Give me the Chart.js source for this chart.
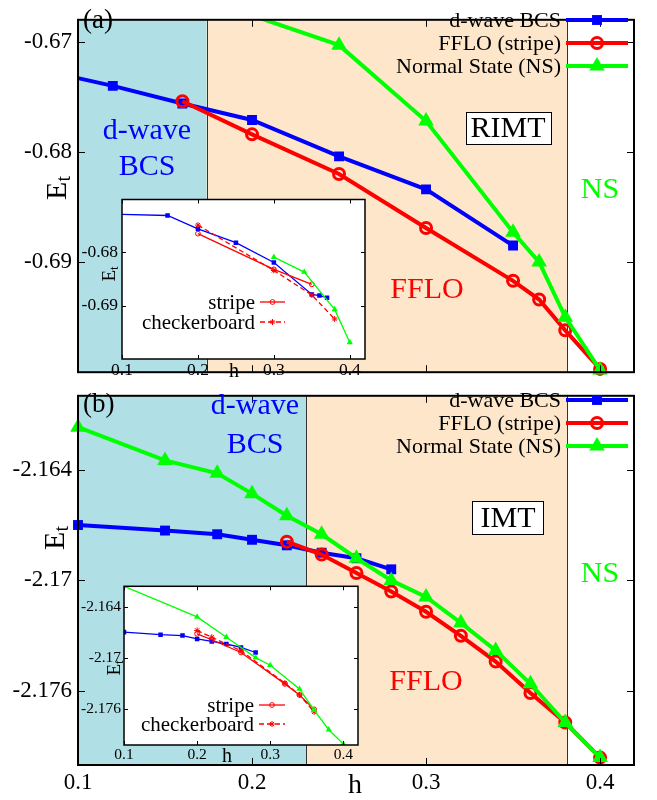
<!DOCTYPE html>
<html>
<head>
<meta charset="utf-8">
<script src="https://cdn.jsdelivr.net/npm/chart.js@4.4.0/dist/chart.umd.min.js"></script>
<style>
  body { margin: 0; background: #fff; }
  #wrap { position: relative; width: 657px; height: 800px; }
  #wrap canvas { position: absolute; }
</style>
</head>
<body>
<div id="wrap">
  <canvas id="mainB"></canvas>
  <canvas id="mainA"></canvas>
  <canvas id="insetA"></canvas>
  <canvas id="insetB"></canvas>
</div>
<script>
// field h ticks shared by all four frames
const hTicks = [0.1, 0.2, 0.3, 0.4]

// (a) RIMT
const aBcsH = [0.10, 0.12, 0.16, 0.20, 0.25, 0.30, 0.35]
const aBcsE = [-0.6733, -0.6740, -0.6756, -0.6771, -0.6804, -0.6834, -0.6885]
const aFfloH = [0.16, 0.20, 0.25, 0.30, 0.35, 0.365, 0.38, 0.40]
const aFfloE = [-0.6754, -0.6784, -0.6820, -0.6869, -0.6917, -0.6934, -0.6962, -0.6997]
const aNsH = [0.20, 0.25, 0.30, 0.35, 0.365, 0.38, 0.40]
const aNsE = [-0.6676, -0.6703, -0.6772, -0.6873, -0.6900, -0.6950, -0.6998]
const aTicks = [-0.67, -0.68, -0.69]
const aPhaseEdges = [0.174, 0.381]

// (a) inset: stripe vs checkerboard
const aiBcsH = [0.10, 0.16, 0.20, 0.25, 0.30, 0.35, 0.36, 0.37]
const aiBcsE = [-0.6729, -0.6731, -0.6756, -0.6782, -0.6819, -0.6879, -0.6881, -0.6885]
const aiStripeH = [0.20, 0.30, 0.35]
const aiStripeE = [-0.6765, -0.6832, -0.6860]
const aiCheckH = [0.20, 0.30, 0.35, 0.38]
const aiCheckE = [-0.6749, -0.6834, -0.6880, -0.6925]
const aiNsH = [0.30, 0.34, 0.38, 0.40]
const aiNsE = [-0.6809, -0.6837, -0.6907, -0.6969]
const aiTicks = [-0.68, -0.69]

// (b) IMT
const bBcsH = [0.10, 0.15, 0.18, 0.20, 0.22, 0.24, 0.26, 0.28]
const bBcsE = [-2.1670, -2.1673, -2.1675, -2.1678, -2.1681, -2.1685, -2.1688, -2.1694]
const bFfloH = [0.22, 0.24, 0.26, 0.28, 0.30, 0.32, 0.34, 0.36, 0.38, 0.40]
const bFfloE = [-2.1679, -2.1686, -2.1696, -2.1706, -2.1717, -2.1730, -2.1744, -2.1761, -2.1777, -2.1796]
const bNsH = [0.10, 0.15, 0.18, 0.20, 0.22, 0.24, 0.26, 0.28, 0.30, 0.32, 0.34, 0.36, 0.38, 0.40]
const bNsE = [-2.1617, -2.1635, -2.1642, -2.1653, -2.1665, -2.1675, -2.1688, -2.1700, -2.1709, -2.1723, -2.1738, -2.1756, -2.1777, -2.1796]
const bTicks = [-2.164, -2.17, -2.176]
const bPhaseEdges = [0.231, 0.381]

// (b) inset
const biBcsH = [0.10, 0.15, 0.18, 0.20, 0.22, 0.24, 0.26, 0.28]
const biBcsE = [-2.1670, -2.1673, -2.1674, -2.1678, -2.1681, -2.1684, -2.1688, -2.1694]
const biStripeH = [0.20, 0.22, 0.26, 0.32, 0.34, 0.36]
const biStripeE = [-2.1672, -2.1679, -2.1694, -2.1731, -2.1744, -2.1761]
const biCheckH = [0.20, 0.22, 0.26, 0.32, 0.34, 0.36]
const biCheckE = [-2.1668, -2.1676, -2.1692, -2.1730, -2.1744, -2.1764]
const biNsH = [0.10, 0.20, 0.24, 0.28, 0.30, 0.34, 0.36, 0.38, 0.40]
const biNsE = [-2.1616, -2.1652, -2.1676, -2.1700, -2.1709, -2.1737, -2.1762, -2.1785, -2.1802]
const biTicks = [-2.164, -2.17, -2.176]

const serif = "'Liberation Serif', 'Times New Roman', serif"
const BLUE = '#0000ff', RED = '#ff0000', GREEN = '#00ff00'
const CYAN_BAND = '#b0dfe5', ORANGE_BAND = '#fde6ca'

const pts = (hs, es) => hs.map((h, i) => ({ x: h, y: es[i] }))

// series styles, thick for main frames and thin for insets
function bcs(data, thin, hideFirst) {
  const r = thin ? 3.2 : 7
  return {
    label: 'd-wave BCS', data, order: 3,
    borderColor: BLUE, borderWidth: thin ? 1.3 : 4,
    pointStyle: 'rect', pointRadius: hideFirst ? (c => c.dataIndex === 0 ? 0 : r) : r,
    legendRadius: r, pointBackgroundColor: BLUE, pointBorderColor: BLUE, pointBorderWidth: 0
  }
}
function fflo(label, data, thin) {
  return {
    label, data, order: 2,
    borderColor: RED, borderWidth: thin ? 1.3 : 4,
    pointStyle: 'circle', pointRadius: thin ? 2.4 : 5.5, legendRadius: thin ? 2.4 : 5.5,
    pointBackgroundColor: 'rgba(0,0,0,0)', pointBorderColor: RED, pointBorderWidth: thin ? 1 : 3
  }
}
function checker(data) {
  return {
    label: 'checkerboard', data, order: 2,
    borderColor: RED, borderWidth: 1.3, borderDash: [5, 3],
    pointStyle: 'star', pointRadius: 3, legendRadius: 3,
    pointBackgroundColor: RED, pointBorderColor: RED, pointBorderWidth: 1
  }
}
function ns(data, thin) {
  return {
    label: 'Normal State (NS)', data, order: 1,
    borderColor: GREEN, borderWidth: thin ? 1.3 : 4,
    pointStyle: 'triangle', pointRadius: thin ? 3.6 : 9, legendRadius: thin ? 3.6 : 9,
    pointBackgroundColor: GREEN, pointBorderColor: GREEN, pointBorderWidth: 0
  }
}

function drawSample(ctx, ds, x1, x2, y) {
  ctx.save()
  ctx.strokeStyle = ds.borderColor
  ctx.lineWidth = ds.borderWidth
  ctx.setLineDash(ds.borderDash || [])
  ctx.beginPath()
  ctx.moveTo(x1, y)
  ctx.lineTo(x2, y)
  ctx.stroke()
  ctx.setLineDash([])
  ctx.fillStyle = ds.pointBackgroundColor
  ctx.strokeStyle = ds.pointBorderColor
  ctx.lineWidth = ds.pointBorderWidth
  Chart.helpers.drawPoint(ctx, {
    pointStyle: ds.pointStyle, radius: ds.legendRadius, rotation: 0, borderWidth: ds.pointBorderWidth
  }, (x1 + x2) / 2, y)
  ctx.restore()
}

function drawEt(ctx, x, y, size) {
  const sub = Math.round(size * 0.68)
  ctx.save()
  ctx.translate(x, y)
  ctx.rotate(-Math.PI / 2)
  ctx.fillStyle = '#000'
  ctx.textAlign = 'left'
  ctx.font = `${size}px ${serif}`
  const wE = ctx.measureText('E').width
  ctx.font = `${sub}px ${serif}`
  const wt = ctx.measureText('t').width
  const x0 = -(wE + wt) / 2
  ctx.font = `${size}px ${serif}`
  ctx.fillText('E', x0, 0)
  ctx.font = `${sub}px ${serif}`
  ctx.fillText('t', x0 + wE, size * 0.22)
  ctx.restore()
}

// phase bands, frame, mirrored ticks, labels and legend
const decorPlugin = {
  id: 'decor',
  beforeDatasetsDraw(chart, args, o) {
    const { ctx, chartArea: a, scales: { x } } = chart
    ctx.save()
    if (o.edges) {
      const e0 = x.getPixelForValue(o.edges[0])
      const e1 = x.getPixelForValue(o.edges[1])
      ctx.fillStyle = CYAN_BAND
      ctx.fillRect(a.left, a.top, e0 - a.left, a.bottom - a.top)
      ctx.fillStyle = ORANGE_BAND
      ctx.fillRect(e0, a.top, e1 - e0, a.bottom - a.top)
      ctx.strokeStyle = '#333'
      ctx.lineWidth = 1
      ctx.beginPath()
      ;[e0, e1].forEach(px => {
        ctx.moveTo(Math.round(px) + 0.5, a.top)
        ctx.lineTo(Math.round(px) + 0.5, a.bottom)
      })
      ctx.stroke()
    } else {
      ctx.fillStyle = '#fff'
      ctx.fillRect(a.left, a.top, a.right - a.left, a.bottom - a.top)
    }
    ctx.restore()
  },
  afterDatasetsDraw(chart, args, o) {
    const { ctx, chartArea: a, scales: { x, y } } = chart
    const [ox, oy] = o.offset
    const tl = o.tickLen
    ctx.save()
    ctx.strokeStyle = '#000'
    ctx.lineWidth = 1
    ctx.beginPath()
    x.ticks.forEach(t => {
      const px = Math.round(x.getPixelForValue(t.value)) + 0.5
      ctx.moveTo(px, a.bottom); ctx.lineTo(px, a.bottom - tl)
      ctx.moveTo(px, a.top); ctx.lineTo(px, a.top + tl)
    })
    y.ticks.forEach(t => {
      const py = Math.round(y.getPixelForValue(t.value)) + 0.5
      ctx.moveTo(a.left, py); ctx.lineTo(a.left + tl, py)
      ctx.moveTo(a.right, py); ctx.lineTo(a.right - tl, py)
    })
    ctx.stroke()
    ctx.lineWidth = o.frameWidth
    ctx.strokeRect(a.left, a.top, a.right - a.left, a.bottom - a.top)

    ;(o.texts || []).forEach(t => {
      if (t.box) {
        ctx.fillStyle = '#fff'
        ctx.fillRect(t.box[0] - ox, t.box[1] - oy, t.box[2], t.box[3])
        ctx.lineWidth = 1
        ctx.strokeStyle = '#000'
        ctx.strokeRect(t.box[0] - ox + 0.5, t.box[1] - oy + 0.5, t.box[2], t.box[3])
      }
      ctx.font = t.font
      ctx.fillStyle = t.color || '#000'
      ctx.textAlign = t.align || 'center'
      ctx.textBaseline = 'alphabetic'
      ctx.fillText(t.text, t.x - ox, t.y - oy)
    })

    if (o.legend) {
      const L = o.legend
      ctx.font = L.font
      ctx.textAlign = 'right'
      ctx.textBaseline = 'middle'
      L.items.forEach((di, i) => {
        const ds = chart.data.datasets[di]
        const ry = L.rows[i] - oy
        ctx.fillStyle = '#000'
        ctx.fillText(ds.label, L.right - ox, ry + 1)
        drawSample(ctx, ds, L.x1 - ox, L.x2 - ox, ry)
      })
    }
    if (o.et) drawEt(ctx, o.et.x - ox, o.et.y - oy, o.et.size)
    ctx.restore()
  }
}

function buildChart(id, place, area, conf) {
  const canvas = document.getElementById(id)
  canvas.width = place.w
  canvas.height = place.h
  canvas.style.left = place.x + 'px'
  canvas.style.top = place.y + 'px'
  canvas.style.width = place.w + 'px'
  canvas.style.height = place.h + 'px'
  const tickFont = { family: serif, size: conf.tickSize }
  return new Chart(canvas, {
    type: 'line',
    data: { datasets: conf.datasets },
    options: {
      responsive: false,
      animation: false,
      events: [],
      devicePixelRatio: 1,
      clip: conf.clip,
      layout: { padding: { left: 0, top: area.t - place.y, right: place.x + place.w - area.r, bottom: 0 } },
      elements: { line: { tension: 0 } },
      scales: {
        x: {
          type: 'linear', min: conf.xMin, max: conf.xMax,
          grid: { display: false, drawTicks: false }, border: { display: false },
          afterBuildTicks: s => { s.ticks = hTicks.map(v => ({ value: v })) },
          afterFit: s => { s.height = place.y + place.h - area.b },
          ticks: {
            display: conf.xLabels, autoSkip: false, maxRotation: 0, padding: conf.xPad,
            color: '#000', font: tickFont, callback: v => String(v)
          }
        },
        y: {
          type: 'linear', min: conf.yMin, max: conf.yMax,
          grid: { display: false, drawTicks: false }, border: { display: false },
          afterBuildTicks: s => { s.ticks = conf.yTicks.map(v => ({ value: v })) },
          afterFit: s => { s.width = area.l - place.x },
          ticks: {
            autoSkip: false, padding: conf.yPad,
            color: '#000', font: tickFont, callback: v => String(v)
          }
        }
      },
      plugins: {
        legend: { display: false },
        tooltip: { enabled: false },
        decor: conf.decor
      }
    },
    plugins: [decorPlugin]
  })
}

const big = s => `${s}px ${serif}`

buildChart('mainA', { x: 0, y: 0, w: 657, h: 392 }, { l: 78, t: 3, r: 634, b: 383 }, {
  xMin: 0.1, xMax: 0.4195, yMin: -0.700, yMax: -0.668, yTicks: aTicks,
  xLabels: false, xPad: 3, yPad: 6, tickSize: 23,
  clip: { top: 0, left: false, right: false, bottom: false },
  datasets: [bcs(pts(aBcsH, aBcsE), false, true), fflo('FFLO (stripe)', pts(aFfloH, aFfloE), false), ns(pts(aNsH, aNsE), false)],
  decor: {
    offset: [0, 0], edges: aPhaseEdges, tickLen: 7, frameWidth: 2,
    texts: [
      { text: '(a)', x: 83, y: 28, font: big(27), align: 'left' },
      { text: 'd-wave', x: 147, y: 139, font: big(30), color: BLUE },
      { text: 'BCS', x: 147, y: 175, font: big(30), color: BLUE },
      { text: 'RIMT', x: 508, y: 137, font: big(30), box: [466, 112, 85, 32] },
      { text: 'NS', x: 600, y: 198, font: big(30), color: GREEN },
      { text: 'FFLO', x: 427, y: 298, font: big(30), color: RED }
    ],
    legend: { items: [0, 1, 2], rows: [20, 43, 66], right: 561, x1: 566, x2: 628, font: big(22) },
    et: { x: 58, y: 188, size: 30 }
  }
})

buildChart('mainB', { x: 0, y: 376, w: 657, h: 424 }, { l: 78, t: 384, r: 634, b: 765 }, {
  xMin: 0.1, xMax: 0.4195, yMin: -2.180, yMax: -2.160, yTicks: bTicks,
  xLabels: true, xPad: 4, yPad: 6, tickSize: 23, clip: false,
  datasets: [bcs(pts(bBcsH, bBcsE), false, false), fflo('FFLO (stripe)', pts(bFfloH, bFfloE), false), ns(pts(bNsH, bNsE), false)],
  decor: {
    offset: [0, 376], edges: bPhaseEdges, tickLen: 7, frameWidth: 2,
    texts: [
      { text: '(b)', x: 83, y: 412, font: big(27), align: 'left' },
      { text: 'd-wave', x: 255, y: 414, font: big(30), color: BLUE },
      { text: 'BCS', x: 255, y: 453, font: big(30), color: BLUE },
      { text: 'IMT', x: 508, y: 527, font: big(30), box: [472, 501, 71, 33] },
      { text: 'NS', x: 600, y: 582, font: big(30), color: GREEN },
      { text: 'FFLO', x: 426, y: 690, font: big(30), color: RED },
      { text: 'h', x: 355, y: 793, font: big(28) }
    ],
    legend: { items: [0, 1, 2], rows: [400, 423, 446], right: 561, x1: 566, x2: 628, font: big(22) },
    et: { x: 56, y: 538, size: 30 }
  }
})

buildChart('insetA', { x: 70, y: 185, w: 300, h: 195 }, { l: 122, t: 190, r: 368, b: 359 }, {
  xMin: 0.1, xMax: 0.42, yMin: -0.700, yMax: -0.6701, yTicks: aiTicks,
  xLabels: true, xPad: 1, yPad: 4, tickSize: 17.5, clip: 0,
  datasets: [bcs(pts(aiBcsH, aiBcsE), true, true), fflo('stripe', pts(aiStripeH, aiStripeE), true), checker(pts(aiCheckH, aiCheckE)), ns(pts(aiNsH, aiNsE), true)],
  decor: {
    offset: [70, 185], tickLen: 4, frameWidth: 1.5,
    texts: [{ text: 'h', x: 234, y: 377, font: big(20) }],
    legend: { items: [1, 2], rows: [302, 322], right: 255, x1: 260, x2: 285, font: big(21) },
    et: { x: 110, y: 274, size: 19 }
  }
})

buildChart('insetB', { x: 70, y: 574, w: 293, h: 192 }, { l: 124, t: 579, r: 361, b: 745 }, {
  xMin: 0.1, xMax: 0.42, yMin: -2.1803, yMax: -2.1616, yTicks: biTicks,
  xLabels: true, xPad: 1, yPad: 3, tickSize: 15.5, clip: 0,
  datasets: [bcs(pts(biBcsH, biBcsE), true, false), fflo('stripe', pts(biStripeH, biStripeE), true), checker(pts(biCheckH, biCheckE)), ns(pts(biNsH, biNsE), true)],
  decor: {
    offset: [70, 574], tickLen: 4, frameWidth: 1.5,
    texts: [{ text: 'h', x: 227, y: 762, font: big(20) }],
    legend: { items: [1, 2], rows: [705, 724], right: 254, x1: 259, x2: 285, font: big(21) },
    et: { x: 115, y: 668, size: 19 }
  }
})
</script>
</body>
</html>
